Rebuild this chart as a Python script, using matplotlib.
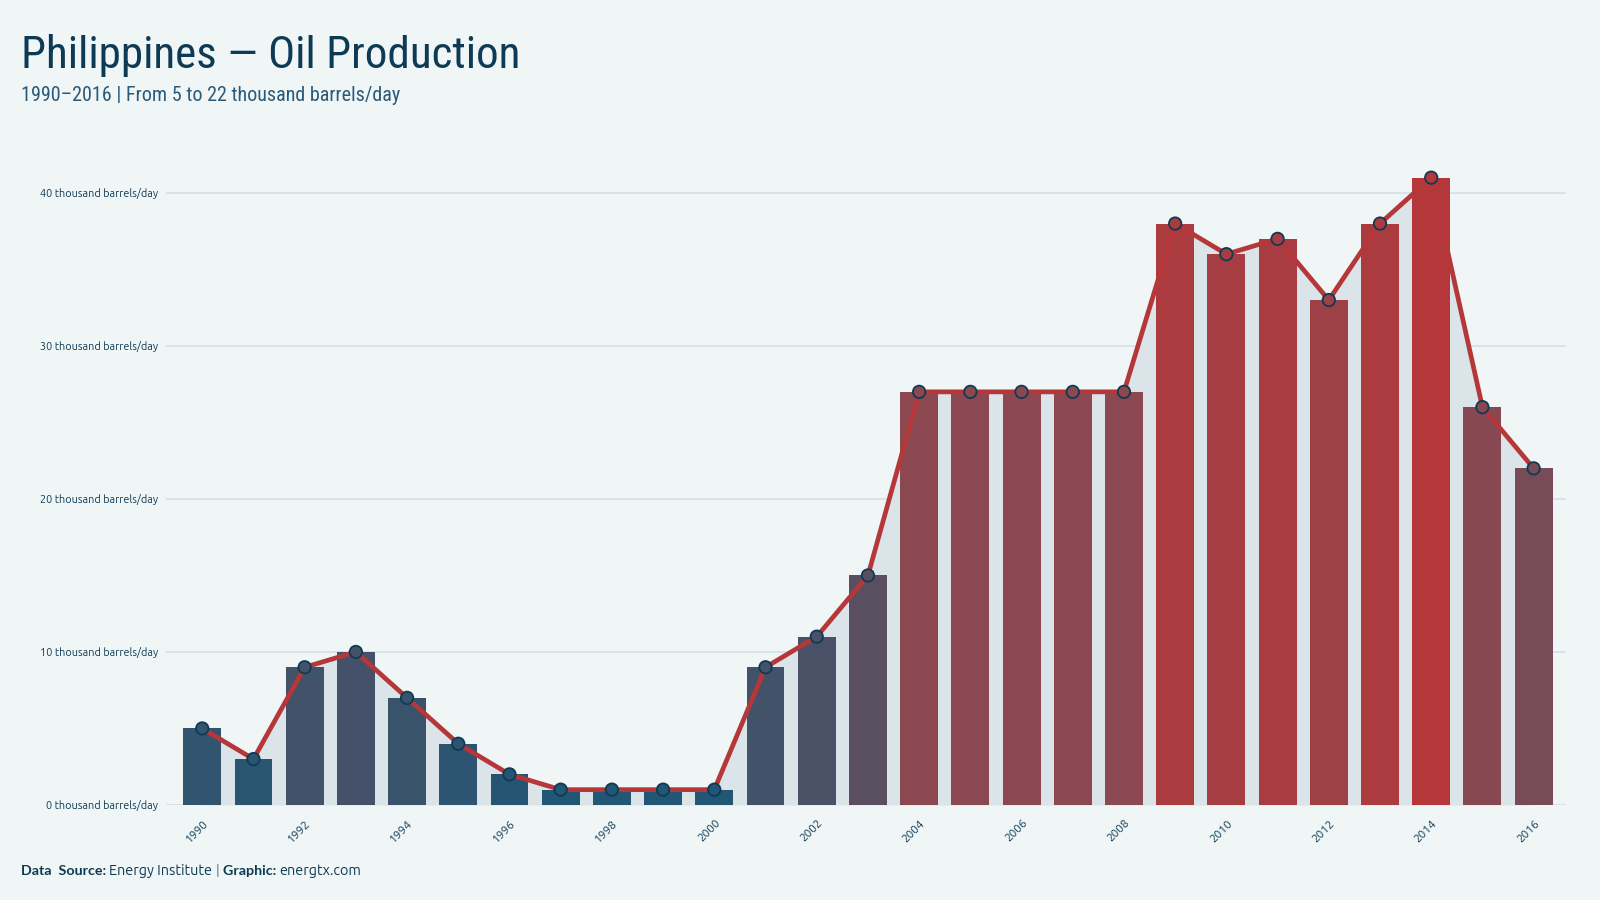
import matplotlib
matplotlib.use("Agg")
import matplotlib.pyplot as plt
import matplotlib.colors as mcolors
from matplotlib import font_manager
import numpy as np

years = list(range(1990, 2017))
values = [5, 3, 9, 10, 7, 4, 2, 1, 1, 1, 1, 9, 11, 15, 27, 27, 27, 27, 27,
          38, 36, 37, 33, 38, 41, 26, 22]
yticks = [0, 10, 20, 30, 40]
ytick_labels = [f"{v} thousand barrels/day" for v in yticks]
title = "Philippines \u2014 Oil Production"
subtitle = "1990\u20132016 | From 5 to 22 thousand barrels/day"

BG = "#f0f5f5"
DARK = "#0d3b55"
SUB = "#2a5a7a"
BLUE = "#215674"
MID = "#8b4850"
RED = "#b5373a"
AREA = "#dae4e9"
GRID = "#d5e0e5"

# font selection
entries = [(f.name, f.weight) for f in font_manager.fontManager.ttflist]
names = {e[0] for e in entries}
cond_family = None
for cand in ['Ubuntu Condensed', 'Roboto Condensed', 'Open Sans Condensed',
             'Liberation Sans Narrow', 'Noto Sans Condensed']:
    if cand in names:
        cond_family = cand
        break
if cond_family is None:
    cond_family = 'Roboto' if 'Roboto' in names else 'DejaVu Sans'

body = 'Ubuntu' if 'Ubuntu' in names else ('Open Sans' if 'Open Sans' in names else 'Noto Sans')
has_body_bold = any(n == body and (w == 'bold' or (isinstance(w, int) and w >= 600))
                    for n, w in entries)
bold_family = [body, 'DejaVu Sans'] if has_body_bold else ['Lato', 'DejaVu Sans']
plt.rcParams['font.family'] = [body, 'DejaVu Sans']

fig = plt.figure(figsize=(16, 9), dpi=100, facecolor=BG)
ax = fig.add_axes([0.104, 0.1056, 0.875, 0.731])
ax.set_facecolor(BG)

x = np.arange(len(years))
vmin, vmax = min(values), max(values)
cmap = mcolors.LinearSegmentedColormap.from_list(
    "br", [(0.0, BLUE), (0.65, MID), (1.0, RED)])
cols = [cmap((v - vmin) / (vmax - vmin)) for v in values]

ax.fill_between(x, 0, values, color=AREA, zorder=1, linewidth=0)
ax.bar(x, values, width=0.74, color=cols, zorder=2, linewidth=0)
ax.plot(x, values, color=RED, lw=3.4, zorder=3, solid_joinstyle='round')
ax.scatter(x, values, s=80, c=cols, edgecolors=DARK, linewidths=1.3, zorder=4)

ax.set_xlim(-0.7, len(years) - 1 + 0.64)
ax.set_ylim(0, 43)
ax.set_yticks(yticks)
ax.set_yticklabels(ytick_labels, fontsize=7.8, color=DARK)
ax.yaxis.grid(True, color=GRID, lw=1.2, zorder=0)
ax.set_axisbelow(True)
ax.tick_params(axis='y', length=0, pad=6)

ax.set_xticks(x[::2])
ax.set_xticklabels([str(y) for y in years[::2]], fontsize=8.5, color=DARK,
                   rotation=45, ha='right', va='top', rotation_mode='anchor')
ax.tick_params(axis='x', length=0, pad=9)
for s in ax.spines.values():
    s.set_visible(False)

renderer = fig.canvas.get_renderer()

def fit_text(xf, yf, txt, size, target_w, **kw):
    t = fig.text(xf, yf, txt, fontsize=size, va='baseline', **kw)
    w = t.get_window_extent(renderer).width
    if w > target_w:
        t.set_fontsize(size * target_w / w)
    return t

fit_text(0.013, 0.924, title, 37, 500, color=DARK,
         family=[cond_family, 'DejaVu Sans'])
fit_text(0.013, 0.888, subtitle, 17, 380, color=SUB,
         family=[cond_family, 'DejaVu Sans'])

# footer
parts = [("Data  Source: ", True, DARK), ("Energy Institute ", False, DARK),
         ("| ", True, "#7a97a8"), ("Graphic: ", True, DARK),
         ("energtx.com", False, DARK)]
xpos = 0.013 * 1600
for txt, bold, c in parts:
    t = fig.text(xpos / 1600, 0.028, txt, fontsize=10.3,
                 fontweight='bold' if bold else 'normal', color=c, va='baseline',
                 family=bold_family if bold else [body, 'DejaVu Sans'])
    xpos += t.get_window_extent(renderer).width

fig.savefig("out.png", dpi=100, facecolor=BG)
